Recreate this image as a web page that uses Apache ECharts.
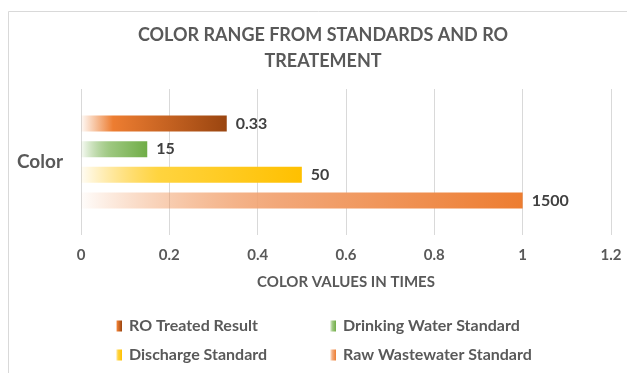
<!DOCTYPE html>
<html>
<head>
<meta charset="utf-8">
<script src="https://cdn.jsdelivr.net/npm/echarts@6/dist/echarts.min.js"></script>
<style>
  html, body { margin: 0; padding: 0; background: #fff; }
  #chart { width: 627px; height: 373px; }
</style>
</head>
<body>
<div id="chart"></div>
<script>
// Single category, one bar per reference series
const categories = ['Color'];
const seriesNames = ['RO Treated Result', 'Drinking Water Standard', 'Discharge Standard', 'Raw Wastewater Standard'];
// Bar lengths on the normalised "times" axis
const scaledValues = [0.33, 0.15, 0.5, 1];
// Values printed beside each bar
const reportedValues = ['0.33', '15', '50', '1500'];
const xTicks = [0, 0.2, 0.4, 0.6, 0.8, 1, 1.2];

const FONT = 'Lato, "Open Sans", sans-serif';

function grad(stops) {
  return new echarts.graphic.LinearGradient(0, 0, 1, 0,
    stops.map(s => ({ offset: s[0], color: s[1] })));
}

const fills = [
  grad([[0, 'rgba(237,125,49,0.04)'], [0.22, '#ED7D31'], [1, '#9A4510']]),
  grad([[0, 'rgba(112,173,71,0.05)'], [0.45, '#9CC77E'], [1, '#70AD47']]),
  grad([[0, 'rgba(255,192,0,0.04)'], [0.35, '#FFD43F'], [1, '#FFC000']]),
  grad([[0, 'rgba(237,125,49,0.02)'], [0.45, '#F2A778'], [1, '#ED7D31']])
];

const chart = echarts.init(document.getElementById('chart'), null, { renderer: 'canvas' });

const legendPos = [
  { left: 116, top: 318 },
  { left: 330, top: 318 },
  { left: 116, top: 347 },
  { left: 330, top: 347 }
];

const option = {
  backgroundColor: '#fff',
  animation: false,
  title: {
    text: 'COLOR RANGE FROM STANDARDS AND RO\nTREATEMENT',
    left: 318,
    textAlign: 'center',
    top: 17,
    textStyle: {
      fontFamily: FONT, fontWeight: 'bold', fontSize: 18, color: '#595959', lineHeight: 26
    }
  },
  graphic: [{
    type: 'rect',
    shape: { x: 8.5, y: 11.5, width: 700, height: 500 },
    style: { fill: 'none', stroke: '#d9d9d9', lineWidth: 1 },
    silent: true
  }],
  legend: seriesNames.map((n, i) => ({
    data: [n],
    left: legendPos[i].left,
    top: legendPos[i].top,
    padding: 0,
    itemWidth: 6,
    itemHeight: 11,
    icon: 'rect',
    textStyle: { fontFamily: FONT, fontWeight: 'bold', fontSize: 16, color: '#595959', padding: [0, 0, 0, 2] }
  })),
  grid: { left: 81, right: 16, top: 89, bottom: 138, containLabel: false },
  xAxis: {
    type: 'value',
    min: 0, max: 1.2, interval: 0.2,
    axisLine: { show: false },
    axisTick: { show: false },
    splitLine: { lineStyle: { color: '#d9d9d9', width: 1 } },
    axisLabel: {
      margin: 13,
      fontFamily: FONT, fontWeight: 'bold', fontSize: 15, color: '#595959',
      formatter: v => String(xTicks.find(t => Math.abs(t - v) < 1e-9) ?? v)
    },
    name: 'COLOR VALUES IN TIMES',
    nameLocation: 'middle',
    nameGap: 40,
    nameTextStyle: { fontFamily: FONT, fontWeight: 'bold', fontSize: 15, color: '#595959' }
  },
  yAxis: {
    type: 'category',
    data: categories,
    axisLine: { show: false },
    axisTick: { show: false },
    axisLabel: { margin: 18, fontFamily: FONT, fontWeight: 'bold', fontSize: 19, color: '#595959' }
  },
  series: seriesNames.map((n, i) => ({
    name: n,
    type: 'bar',
    data: [scaledValues[i]],
    barWidth: 16,
    barGap: '60%',
    itemStyle: { color: fills[i] },
    label: {
      show: true,
      position: 'right',
      distance: 9,
      formatter: () => reportedValues[i],
      fontFamily: FONT, fontWeight: 'bold', fontSize: 16, color: '#404040'
    }
  }))
};

chart.setOption(option);
</script>
</body>
</html>
